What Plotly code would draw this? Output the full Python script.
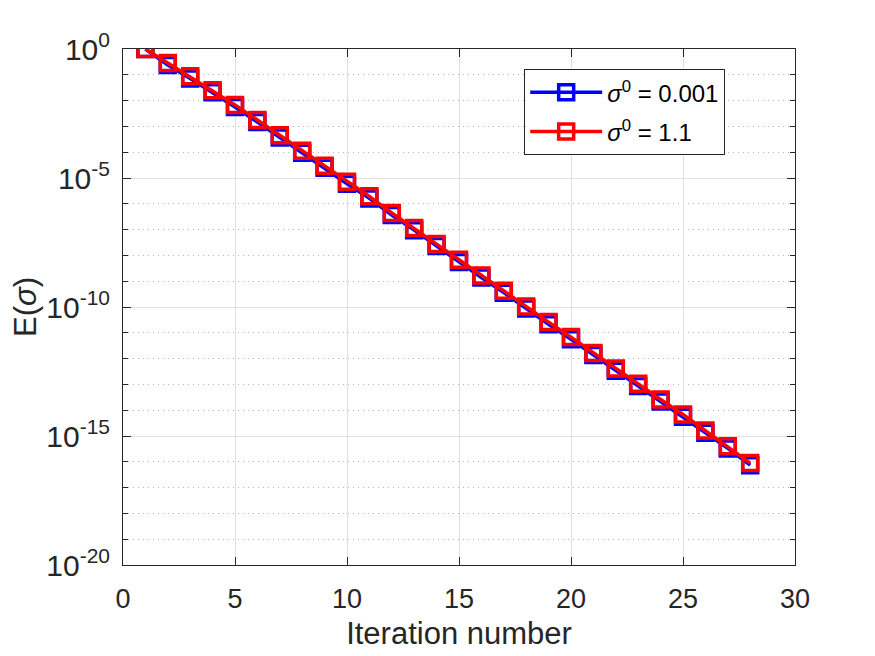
"""
Convergence of E(sigma) for two starting values, MATLAB style log plot
"""

import plotly.graph_objects as go

# iteration index
iterations = list(range(1, 29))

# E(sigma) for sigma^0 = 0.001 (blue)
err_small = [1.0, 2.4e-1, 7.2e-2, 2.1e-2, 5.6e-3, 1.48e-3, 3.7e-4, 9.5e-5,
             2.5e-5, 6.0e-6, 1.62e-6, 3.65e-7, 9.5e-8, 2.3e-8, 5.6e-9, 1.38e-9,
             3.6e-10, 8.7e-11, 2.15e-11, 5.6e-12, 1.38e-12, 3.4e-13, 8.7e-14,
             2.15e-14, 5.6e-15, 1.34e-15, 3.3e-16, 7.4e-17]

# E(sigma) for sigma^0 = 1.1 (red)
err_large = [1.0, 2.88e-1, 8.7e-2, 2.5e-2, 6.8e-3, 1.78e-3, 4.5e-4, 1.15e-4,
             3.0e-5, 7.2e-6, 1.95e-6, 4.4e-7, 1.15e-7, 2.75e-8, 6.8e-9, 1.66e-9,
             4.3e-10, 1.05e-10, 2.6e-11, 6.8e-12, 1.66e-12, 4.1e-13, 1.05e-13,
             2.6e-14, 6.8e-15, 1.62e-15, 4.0e-16, 8.9e-17]

series_names = ["<i>σ</i><sup>0</sup> = 0.001", "<i>σ</i><sup>0</sup> = 1.1"]

x_ticks = [0, 5, 10, 15, 20, 25, 30]
y_major = [1, 1e-5, 1e-10, 1e-15, 1e-20]
y_major_text = ["10<sup>0</sup>", "10<sup>-5</sup>", "10<sup>-10</sup>",
                "10<sup>-15</sup>", "10<sup>-20</sup>"]
y_minor = [10.0 ** -k for k in range(21) if k % 5 != 0]

AXIS = "#262626"
GRID = "#e0e0e0"
FONT = "Liberation Sans, Arial, sans-serif"

fig = go.Figure()

for i, (vals, name, color) in enumerate([(err_small, series_names[0], "#0000ff"),
                                         (err_large, series_names[1], "#ff0000")]):
    fig.add_trace(go.Scatter(
        x=iterations,
        y=vals,
        name=name,
        legendgroup=f"g{i}",
        mode="lines+markers",
        line=dict(color=color, width=3.5),
        marker=dict(symbol="square-open", size=15, color=color,
                    line=dict(color=color, width=3.5)),
    ))

# the page body adds 8px around the figure, margins are set for that
fig.update_layout(
    width=875,
    height=656,
    margin=dict(l=115, r=88, t=41, b=99),
    paper_bgcolor="white",
    plot_bgcolor="white",
    font=dict(family=FONT, size=20, color=AXIS),
    legend=dict(
        x=0.597, y=0.961, xanchor="left", yanchor="top",
        bgcolor="white", bordercolor=AXIS, borderwidth=1,
        font=dict(size=24, color="black"),
        itemwidth=72, tracegroupgap=5,
    ),
    showlegend=True,
)

fig.update_xaxes(
    range=[0, 30],
    tickvals=x_ticks,
    ticks="inside", ticklen=8, tickcolor=AXIS, tickwidth=1,
    showline=True, linecolor=AXIS, linewidth=1, mirror="ticks",
    showgrid=True, gridcolor=GRID, gridwidth=1,
    zeroline=False,
    tickfont=dict(size=27, color=AXIS),
    ticklabelstandoff=10,
    title=dict(text="Iteration number", font=dict(size=31, color=AXIS), standoff=8),
)

fig.update_yaxes(
    type="log",
    range=[-20, 0],
    tickmode="array",
    tickvals=y_major,
    ticktext=y_major_text,
    ticks="inside", ticklen=8, tickcolor=AXIS, tickwidth=1,
    showline=True, linecolor=AXIS, linewidth=1, mirror="ticks",
    showgrid=True, gridcolor=GRID, gridwidth=1,
    zeroline=False,
    tickfont=dict(size=30, color=AXIS),
    ticklabelstandoff=6,
    minor=dict(tickmode="array", tickvals=y_minor, ticks="inside", ticklen=5,
               tickcolor=AXIS, showgrid=True, gridcolor="#b4b4b4",
               griddash="1px,4px", gridwidth=1),
    title=dict(text="E(<i>σ</i>)", font=dict(size=31, color=AXIS), standoff=6),
)

fig.write_html("out.html")
